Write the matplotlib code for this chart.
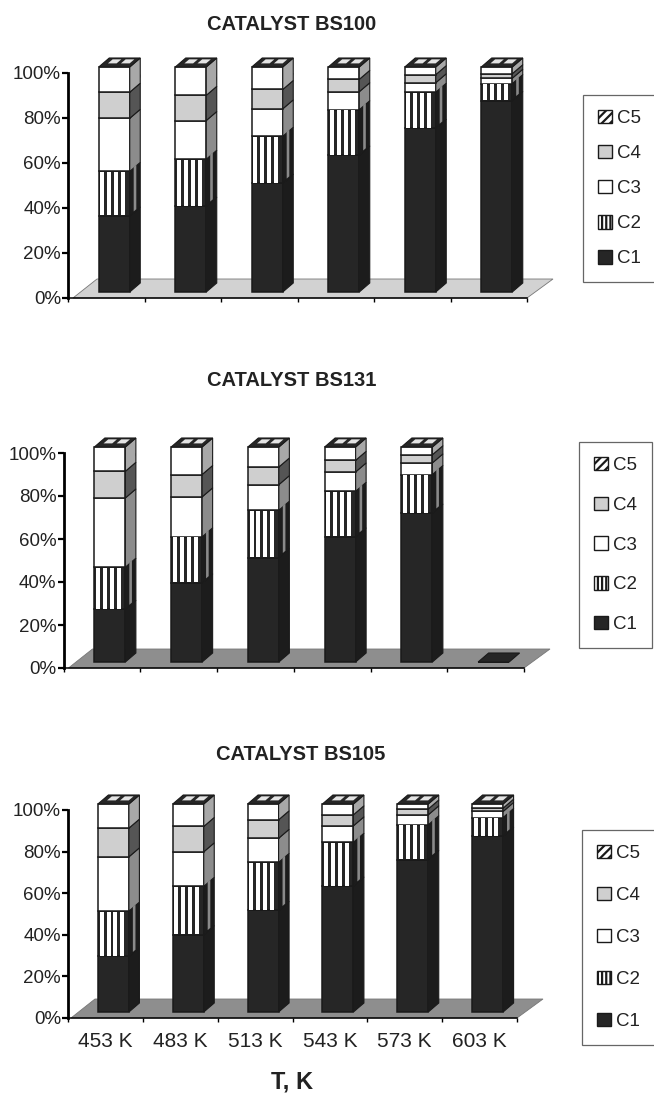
import numpy as np
import matplotlib
matplotlib.use('Agg')
import matplotlib.pyplot as plt
from matplotlib.patches import Polygon, Patch

plt.rcParams['font.family'] = ['Liberation Sans', 'DejaVu Sans']
plt.rcParams['hatch.linewidth'] = 1.6

W, H = 654, 1093

temps = ['453 K', '483 K', '513 K', '543 K', '573 K', '603 K']
series = ['C1', 'C2', 'C3', 'C4', 'C5']
y_labels = ['0%', '20%', '40%', '60%', '80%', '100%']

bs100_c1 = [33.8, 38.2, 48.4, 60.9, 72.8, 85.1]
bs100_c2 = [19.8, 20.8, 20.8, 20.1, 16.0, 7.5]
bs100_c3 = [23.6, 17.2, 12.2, 8.0, 4.2, 2.4]
bs100_c4 = [11.6, 11.2, 8.6, 5.5, 3.6, 2.0]
bs100_c5 = [11.2, 12.6, 10.0, 5.5, 3.4, 3.0]

bs131_c1 = [24.5, 36.8, 48.6, 58.2, 69.3, 0]
bs131_c2 = [19.6, 21.4, 22.0, 21.2, 17.9, 0]
bs131_c3 = [32.2, 18.6, 11.9, 9.0, 5.4, 0]
bs131_c4 = [12.4, 10.4, 8.2, 5.4, 3.8, 0]
bs131_c5 = [11.3, 12.8, 9.3, 6.2, 3.6, 0]

bs105_c1 = [26.7, 37.2, 48.8, 60.6, 73.3, 84.6]
bs105_c2 = [21.8, 23.2, 23.1, 21.0, 16.7, 8.9]
bs105_c3 = [26.1, 16.6, 11.6, 7.9, 4.8, 2.9]
bs105_c4 = [13.8, 12.2, 8.9, 5.3, 2.8, 1.6]
bs105_c5 = [11.6, 10.8, 7.6, 5.2, 2.4, 2.0]

DARK = '#262626'
EDGE = '#1a1a1a'
front_col = {'C1': DARK, 'C2': DARK, 'C3': 'white', 'C4': '#cfcfcf', 'C5': 'white'}
side_col = {'C1': '#1c1c1c', 'C2': '#1c1c1c', 'C3': '#8c8c8c', 'C4': '#555555', 'C5': '#a8a8a8'}


def diagonals(ax, patch, xa, xb, ya, yb, sx, sy, step, lw):
    # 45 degree (in pixels) lines clipped to one face
    n = int((xb - xa) / (step * sx) + (yb - ya) / (step * sy)) + 3
    for k in range(-1, n):
        x0 = xa + k * step * sx
        line, = ax.plot([x0, x0 - (yb - ya) / sy * sx], [ya, yb], color=EDGE, lw=lw,
                        solid_capstyle='butt', clip_on=True)
        line.set_clip_path(patch)


def panel(ax, columns, floor_col, floor_off, show_x):
    x0_px, x1_px, y0_px, y1_px = ax.px_box
    sx = 6 / (x1_px - x0_px)
    sy = 100 / (y1_px - y0_px)
    ax.set_xlim(0, 6)
    ax.set_ylim(0, 100)

    bw = 31 * sx
    dx, dy = 10.5 * sx, 9 * sy
    shift, lift = 8 * sx, 6 * sy

    # floor
    fl, fd = floor_off * sx, 19 * sy
    floor = Polygon([(fl, 0), (6, 0), (6 + 26 * sx, fd), (fl + 24 * sx, fd)],
                    facecolor=floor_col, edgecolor='#777777', lw=0.6, clip_on=False, zorder=1)
    ax.add_patch(floor)

    centers = np.arange(6) + 0.5 + shift
    bottoms = np.zeros(6) + lift
    for name, vals in zip(series, columns):
        vals = np.array(vals, dtype=float)
        rects = ax.bar(centers, vals, bw, bottom=bottoms, color=front_col[name], edgecolor=EDGE,
                       lw=1.1, clip_on=False, zorder=3)
        for i, v in enumerate(vals):
            if v == 0:
                continue
            xl = centers[i] - bw / 2
            xr = centers[i] + bw / 2
            b = bottoms[i]
            t = b + v
            side = Polygon([(xr, b), (xr + dx, b + dy), (xr + dx, t + dy), (xr, t)],
                           facecolor=side_col[name], edgecolor=EDGE, lw=0.8, clip_on=False, zorder=3)
            ax.add_patch(side)
            if name == 'C2':
                # white stripes on the front, one grey stripe on the side
                sw = 4.0 * sx
                for k in range(4):
                    sc = xl + (1.7 + k * 6.9) * sx
                    ax.bar(sc + sw / 2, v - 0.4, sw, bottom=b + 0.2, color='white', lw=0,
                           clip_on=False, zorder=4)
                sm = xr + dx * 0.5
                ax.add_patch(Polygon([(sm - 1.3 * sx, b + dy * 0.5), (sm + 1.3 * sx, b + dy * 0.75),
                                      (sm + 1.3 * sx, t + dy * 0.75), (sm - 1.3 * sx, t + dy * 0.5)],
                                     facecolor='#8a8a8a', lw=0, clip_on=False, zorder=4))
            if name == 'C5':
                diagonals(ax, rects[i], xl, xr, b, t, sx, sy, 13, 2.6)
                diagonals(ax, side, xr, xr + dx, b, t + dy, sx, sy, 9, 1.6)
        bottoms = bottoms + vals

    # lid of each column
    for i in range(6):
        xl = centers[i] - bw / 2
        xr = centers[i] + bw / 2
        t = bottoms[i]
        ax.add_patch(Polygon([(xl, t), (xr, t), (xr + dx, t + dy), (xl + dx, t + dy)],
                             facecolor=DARK, edgecolor=EDGE, lw=0.8, clip_on=False, zorder=3))
        if t > lift:
            for u0, u1 in [(0.16, 0.44), (0.58, 0.86)]:
                vv0, vv1 = 0.4, 0.85
                pts = []
                for u, v in [(u0, vv0), (u1, vv0), (u1, vv1), (u0, vv1)]:
                    pts.append((xl + u * bw + v * dx, t + v * dy))
                ax.add_patch(Polygon(pts, facecolor='#e4e4e4', lw=0, clip_on=False, zorder=4))

    for s in ['top', 'right']:
        ax.spines[s].set_visible(False)
    ax.spines['left'].set_linewidth(2.0)
    ax.spines['bottom'].set_linewidth(1.1)
    ax.spines['left'].set_zorder(5)
    ax.spines['bottom'].set_zorder(2)
    ax.set_yticks(np.arange(0, 101, 20))
    ax.set_yticklabels(y_labels, fontsize=13.5, color='#222222')
    ax.tick_params(axis='y', length=4, width=1.6, pad=1)
    ax.set_xticks(np.arange(7))
    ax.set_xticklabels([])
    ax.tick_params(axis='x', length=3, width=1, direction='out')
    if show_x:
        ax.set_xticks(np.arange(6) + 0.5, minor=True)
        ax.set_xticklabels(temps, minor=True, fontsize=15, color='#222222')
        ax.tick_params(axis='x', which='minor', length=0, pad=10)
    ax.patch.set_alpha(0)


def add_axes(fig, x0, x1, y_top, y_bottom):
    ax = fig.add_axes([x0 / W, 1 - y_bottom / H, (x1 - x0) / W, (y_bottom - y_top) / H])
    ax.px_box = (x0, x1, y_top, y_bottom)
    return ax


def legend(ax, fig, x, y, spacing):
    handles = [Patch(facecolor='white', edgecolor=EDGE, hatch='////', label='C5'),
               Patch(facecolor='#cfcfcf', edgecolor=EDGE, label='C4'),
               Patch(facecolor='white', edgecolor=EDGE, label='C3'),
               Patch(facecolor='white', edgecolor=EDGE, hatch='||||', label='C2'),
               Patch(facecolor=DARK, edgecolor=EDGE, label='C1')]
    leg = ax.legend(handles=handles, loc='upper left', bbox_to_anchor=(x / W, 1 - y / H),
                    bbox_transform=fig.transFigure, fontsize=13.5, frameon=True, fancybox=False,
                    edgecolor='#666666', framealpha=1, handlelength=0.72, handleheight=0.72,
                    handletextpad=0.27, labelspacing=spacing, borderpad=0.8, borderaxespad=0,
                    labelcolor='#222222')
    leg.get_frame().set_linewidth(0.9)


fig = plt.figure(figsize=(W / 100, H / 100), dpi=100)

ax1 = add_axes(fig, 68, 527, 73, 298)
panel(ax1, [bs100_c1, bs100_c2, bs100_c3, bs100_c4, bs100_c5], '#d2d2d2', 5, False)
legend(ax1, fig, 583, 95, 0.95)

ax2 = add_axes(fig, 63.5, 524, 453, 668)
panel(ax2, [bs131_c1, bs131_c2, bs131_c3, bs131_c4, bs131_c5], '#8e8e8e', 5, False)
legend(ax2, fig, 579, 442, 1.2)

ax3 = add_axes(fig, 68, 517, 810, 1018)
panel(ax3, [bs105_c1, bs105_c2, bs105_c3, bs105_c4, bs105_c5], '#8e8e8e', 3, True)
legend(ax3, fig, 582, 830, 1.32)

fig.text(292 / W, 1 - 25 / H, 'CATALYST BS100', fontsize=14.5, fontweight='bold', ha='center', va='center', color='#222222')
fig.text(292 / W, 1 - 380 / H, 'CATALYST BS131', fontsize=14.5, fontweight='bold', ha='center', va='center', color='#222222')
fig.text(301 / W, 1 - 755 / H, 'CATALYST BS105', fontsize=14.5, fontweight='bold', ha='center', va='center', color='#222222')
fig.text(292 / W, 1 - 1082 / H, 'T, K', fontsize=17, fontweight='bold', ha='center', va='center', color='#222222')

fig.savefig('out.png', dpi=100)
